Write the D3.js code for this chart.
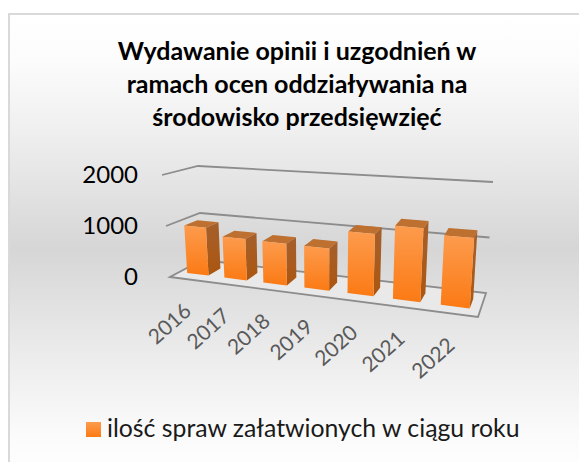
<!DOCTYPE html>
<html>
<head>
<meta charset="utf-8">
<script src="https://cdnjs.cloudflare.com/ajax/libs/d3/7.8.5/d3.min.js"></script>
<style>
  html, body { margin: 0; padding: 0; background: #fff; }
  svg { display: block; }
  text { font-family: Lato, "Open Sans", sans-serif; }
</style>
</head>
<body>
<div id="chart"></div>
<script>
// values
const years = ["2016", "2017", "2018", "2019", "2020", "2021", "2022"];
const cases = [945, 800, 790, 785, 1130, 1315, 1220];
const yTicks = [0, 1000, 2000];
const titleLines = ["Wydawanie opinii i uzgodnień w", "ramach ocen oddziaływania na", "środowisko przedsięwzięć"];
const legendLabel = "ilość spraw załatwionych w ciągu roku";

const width = 579, height = 462;

const svg = d3.select("#chart")
    .append("svg")
    .attr("width", width)
    .attr("height", height);

const defs = svg.append("defs");

function gradient(id, stops) {
    const g = defs.append("linearGradient").attr("id", id)
        .attr("x1", 0).attr("y1", 0).attr("x2", 0).attr("y2", 1);
    stops.forEach(s => g.append("stop").attr("offset", s[0]).attr("stop-color", s[1]));
}

gradient("bg", [[0, "#ffffff"], [0.1, "#fcfcfc"], [0.25, "#efefef"], [0.5, "#d6d6d6"], [0.75, "#eeeeee"], [0.9, "#fbfbfb"], [1, "#ffffff"]]);
gradient("front", [[0, "#fd9b4d"], [1, "#fb7a14"]]);
gradient("side", [[0, "#a5602c"], [1, "#ac5610"]]);

// chart box, runs off the right and bottom of the picture
svg.append("rect")
    .attr("x", 9).attr("y", 14)
    .attr("width", 620).attr("height", 470)
    .attr("fill", "url(#bg)")
    .attr("stroke", "#d9d9d9")
    .attr("stroke-width", 2);

svg.append("g").selectAll("text")
    .data(titleLines)
    .join("text")
    .attr("x", 297)
    .attr("y", (d, i) => 60 + i * 33)
    .attr("text-anchor", "middle")
    .attr("font-size", 25)
    .attr("font-weight", 700)
    .attr("fill", "#000")
    .text(d => d);

// the 3D box of the plot: floor and top corners on screen
const floorBox = { fl: [170, 277], fr: [478, 317], br: [486, 293], bl: [202, 260] };
const topBox = { fl: [162, 175], fr: [486, 199], br: [493, 182], bl: [198, 166] };

// x is a band scale on 0..1, then bent for the perspective of the camera
const x = d3.scaleBand().domain(years).range([0, 1]).paddingInner(0.42).paddingOuter(0.21);
const y = d3.scaleLinear().domain([0, 2000]).range([0, 1]);

const bend = u => 0.837 * u / (1 - 0.163 * u);

function corner(box, t, w) {
    const front = d3.interpolate(box.fl, box.fr)(t);
    const back = d3.interpolate(box.bl, box.br)(t);
    return d3.interpolate(front, back)(w);
}

// u across, v up, w into the picture, all 0..1
function project(u, v, w) {
    const t = bend(u);
    return d3.interpolate(corner(floorBox, t, w), corner(topBox, t, w))(v);
}

const poly = pts => pts.map(p => p.map(c => c.toFixed(1)).join(",")).join(" ");
const line = d3.line();

// floor
svg.append("polygon")
    .attr("points", poly([project(0, 0, 0), project(1, 0, 0), project(1, 0, 1), project(0, 0, 1)]))
    .attr("fill", "#e9e9e9")
    .attr("stroke", "#8c8c8c")
    .attr("stroke-width", 1.8);

// gridlines on the left and back walls
svg.append("g").selectAll("path")
    .data(yTicks.filter(d => d > 0))
    .join("path")
    .attr("d", d => line([project(0, y(d), 0), project(0, y(d), 1), project(1, y(d), 1)]))
    .attr("fill", "none")
    .attr("stroke", "#8c8c8c")
    .attr("stroke-width", 1.8);

// y labels
svg.append("g").selectAll("text")
    .data(yTicks)
    .join("text")
    .attr("x", 138)
    .attr("y", d => project(0, y(d), 0)[1])
    .attr("dy", "0.35em")
    .attr("text-anchor", "end")
    .attr("font-size", 24)
    .attr("fill", "#000")
    .text(d => d);

// bars
const bars = svg.append("g").selectAll("g")
    .data(years.map((d, i) => ({ year: d, value: cases[i] })))
    .join("g");

const x0 = d => x(d.year);
const x1 = d => x(d.year) + x.bandwidth();

bars.append("polygon")
    .attr("points", d => poly([
        project(x0(d), y(d.value), 0.3), project(x1(d), y(d.value), 0.3),
        project(x1(d), y(d.value), 0.7), project(x0(d), y(d.value), 0.7)]))
    .attr("fill", "#bd7030");

bars.append("polygon")
    .attr("points", d => poly([
        project(x1(d), y(d.value), 0.3), project(x1(d), y(d.value), 0.7),
        project(x1(d), 0, 0.7), project(x1(d), 0, 0.3)]))
    .attr("fill", "url(#side)");

bars.append("polygon")
    .attr("points", d => poly([
        project(x0(d), y(d.value), 0.3), project(x1(d), y(d.value), 0.3),
        project(x1(d), 0, 0.3), project(x0(d), 0, 0.3)]))
    .attr("fill", "url(#front)");

// category labels
svg.append("g").selectAll("text")
    .data(years)
    .join("text")
    .attr("transform", d => {
        const p = project(x(d) + x.bandwidth() / 2, 0, 0);
        return `translate(${p[0] - 1},${p[1] + 28}) rotate(-42)`;
    })
    .attr("dy", "0.35em")
    .attr("text-anchor", "end")
    .attr("font-size", 21)
    .attr("fill", "#595959")
    .text(d => d);

// legend
svg.append("rect")
    .attr("x", 86).attr("y", 422)
    .attr("width", 15).attr("height", 15)
    .attr("fill", "url(#front)");

svg.append("text")
    .attr("x", 107)
    .attr("y", 437)
    .attr("font-size", 24.8)
    .attr("fill", "#1a1a1a")
    .text(legendLabel);
</script>
</body>
</html>
